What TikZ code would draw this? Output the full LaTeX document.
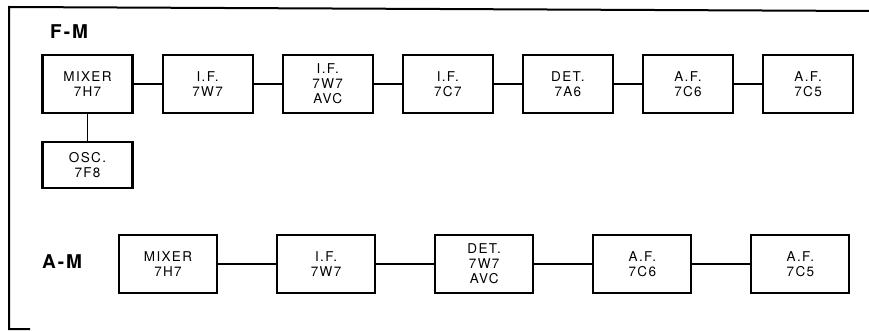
\documentclass[tikz,border=0pt]{standalone}
\usepackage{fontspec}
\setmainfont{TeX Gyre Heros}[LetterSpace=10]
\usetikzlibrary{positioning}
\tikzstyle{stage} = [rectangle, draw=black, line width=2.1pt, minimum width=90pt, minimum height=58pt, inner sep=0pt, align=center, text centered, font=\fontsize{13.5}{15}\selectfont]
\tikzstyle{amstage} = [stage, minimum width=98pt]
\tikzstyle{band} = [font=\fontsize{19}{21}\selectfont\bfseries]
\tikzstyle{wire} = [line width=1.5pt]

\begin{document}
\begin{tikzpicture}[x=1pt, y=-1pt, node distance=28pt]
        \useasboundingbox (0,0) rectangle (869,331);
        \draw[line width=2pt] (869,11) -- (9,7) -- (9,329) -- (30,329);

        % F-M receiver
        \node[band] (fm) at (69,32) {F-M};
        \node[stage] (fmmix) at (87.5,84) {MIXER\\7H7};
        \node[stage, right=of fmmix] (fmifa) {I.F.\\7W7};
        \node[stage, right=of fmifa] (fmifb) {I.F.\\7W7\\AVC};
        \node[stage, right=of fmifb] (fmifc) {I.F.\\7C7};
        \node[stage, right=of fmifc] (fmdet) {DET.\\7A6};
        \node[stage, right=of fmdet] (fmafa) {A.F.\\7C6};
        \node[stage, right=of fmafa] (fmafb) {A.F.\\7C5};
        \node[stage, minimum height=46pt, below=27pt of fmmix] (fmosc) {OSC.\\7F8};

        \draw[wire] (fmmix) -- (fmifa);
        \draw[wire] (fmifa) -- (fmifb);
        \draw[wire] (fmifb) -- (fmifc);
        \draw[wire] (fmifc) -- (fmdet);
        \draw[wire] (fmdet) -- (fmafa);
        \draw[wire] (fmafa) -- (fmafb);
        \draw[wire] (fmmix) -- (fmosc);

        % A-M receiver
        \node[band] (am) at (62,262) {A-M};
        \node[amstage] (ammix) at (168,264) {MIXER\\7H7};
        \node[amstage, right=58pt of ammix] (amif) {I.F.\\7W7};
        \node[amstage, right=58pt of amif] (amdet) {DET.\\7W7\\AVC};
        \node[amstage, right=58pt of amdet] (amafa) {A.F.\\7C6};
        \node[amstage, right=58pt of amafa] (amafb) {A.F.\\7C5};

        \draw[wire] (ammix) -- (amif);
        \draw[wire] (amif) -- (amdet);
        \draw[wire] (amdet) -- (amafa);
        \draw[wire] (amafa) -- (amafb);
    \end{tikzpicture}
\end{document}
